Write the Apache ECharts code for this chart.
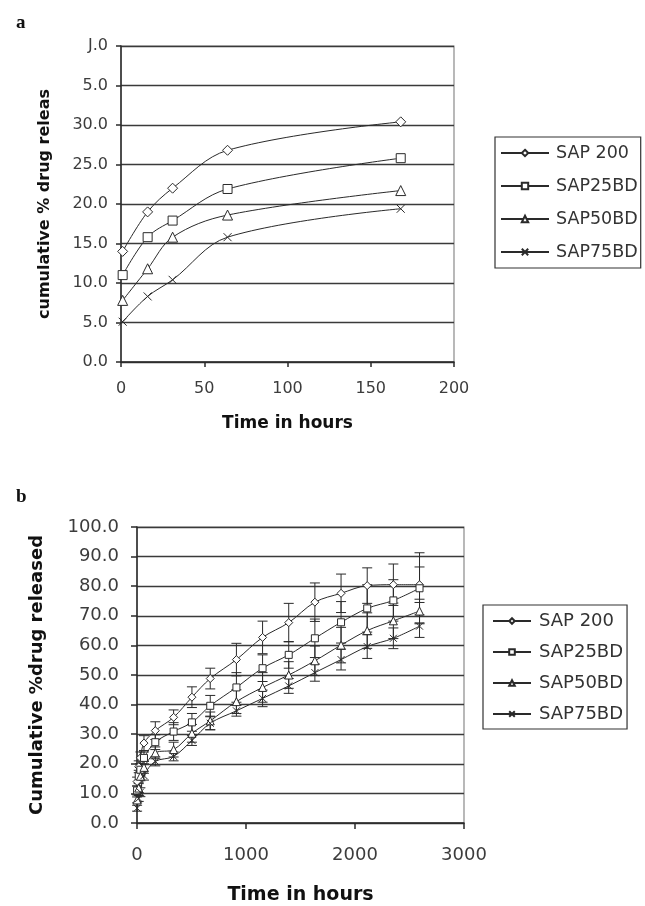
<!DOCTYPE html>
<html>
<head>
<meta charset="utf-8">
<script src="https://cdn.jsdelivr.net/npm/echarts@6/dist/echarts.min.js"></script>
<style>
html,body{margin:0;padding:0;background:#fff;}
#chart{width:645px;height:906px;}
</style>
</head>
<body>
<div id="chart"></div>
<script>
// ---------- Data ----------
var seriesNames = ['SAP 200', 'SAP25BD', 'SAP50BD', 'SAP75BD'];

// Panel a
var timeA = [1, 16, 31, 64, 168];
var a200 = [14.0, 19.0, 22.0, 26.8, 30.4];
var a25  = [11.0, 15.8, 17.9, 21.9, 25.8];
var a50  = [7.8, 11.8, 15.8, 18.6, 21.7];
var a75  = [5.1, 8.3, 10.4, 15.8, 19.4];
var yTicksA = ['0.0', '5.0', '10.0', '15.0', '20.0', '25.0', '30.0', '5.0', 'J.0'];
var xTicksA = ['0', '50', '100', '150', '200'];

// Panel b
var timeB = [1, 16, 31, 64, 168, 336, 504, 672, 912, 1152, 1392, 1632, 1872, 2112, 2352, 2592];
var b200 = [14.0, 19.0, 22.0, 27.0, 31.2, 35.7, 42.5, 48.8, 55.2, 62.7, 67.7, 74.6, 77.6, 80.2, 80.5, 80.5];
var b25  = [11.0, 15.8, 18.0, 22.0, 27.3, 30.9, 34.0, 39.6, 45.8, 52.3, 56.8, 62.4, 67.8, 72.5, 75.2, 79.3];
var b50  = [7.8, 11.8, 15.8, 18.8, 23.7, 24.8, 30.3, 34.5, 41.0, 45.8, 50.0, 54.8, 60.1, 65.0, 68.3, 71.6];
var b75  = [5.0, 8.3, 10.4, 16.0, 20.8, 22.5, 27.9, 33.7, 37.9, 42.1, 46.3, 50.8, 55.2, 59.6, 62.4, 66.5];
var e200 = [1.5, 2, 2, 2.5, 3, 2.5, 3.5, 3.5, 5.5, 5.5, 6.5, 6.5, 6.5, 6, 7, 6];
var e25  = [1.5, 2, 2, 2, 2.5, 3, 3, 3.5, 5, 4.5, 4.5, 6.5, 7, 8, 7, 12];
var e50  = [1, 1.5, 1.5, 2, 2, 2.5, 3, 3, 4, 5, 4.5, 5, 6, 6, 6, 4];
var e75  = [1, 1, 1.5, 1.5, 1.5, 1.5, 1.7, 2.2, 1.8, 2.8, 2.5, 2.9, 3.5, 4, 3.5, 3.8];
var yTicksB = ['0.0', '10.0', '20.0', '30.0', '40.0', '50.0', '60.0', '70.0', '80.0', '90.0', '100.0'];
var xTicksB = ['0', '1000', '2000', '3000'];

// ---------- Styles ----------
var ink = '#2a2a2a';
var xPath = 'path://M0,0L10,10M10,0L0,10';
var symbols = ['diamond', 'rect', 'triangle', xPath];

function pairs(t, v) { return t.map(function (x, i) { return [x, v[i]]; }); }
function triples(t, v, e) { return t.map(function (x, i) { return [x, v[i], e[i]]; }); }

function lineSeries(name, idx, data, axis, size) {
  return {
    name: name, type: 'line', xAxisIndex: axis, yAxisIndex: axis,
    data: data, smooth: 0.35, symbol: symbols[idx], symbolSize: size,
    showAllSymbol: true,
    lineStyle: { color: ink, width: 1 },
    itemStyle: { color: '#fff', borderColor: ink, borderWidth: 1 },
    emphasis: { disabled: true }, z: 3
  };
}

function errSeries(data) {
  return {
    type: 'custom', xAxisIndex: 1, yAxisIndex: 1, data: data, z: 2,
    silent: true,
    renderItem: function (params, api) {
      var x = api.value(0), y = api.value(1), e = api.value(2);
      var top = api.coord([x, y + e]);
      var bot = api.coord([x, y - e]);
      var w = 5;
      var st = { stroke: ink, lineWidth: 1 };
      return {
        type: 'group',
        children: [
          { type: 'line', shape: { x1: top[0], y1: top[1], x2: bot[0], y2: bot[1] }, style: st },
          { type: 'line', shape: { x1: top[0] - w, y1: top[1], x2: top[0] + w, y2: top[1] }, style: st },
          { type: 'line', shape: { x1: bot[0] - w, y1: bot[1], x2: bot[0] + w, y2: bot[1] }, style: st }
        ]
      };
    }
  };
}

var tickFont = 'DejaVu Sans';
var labelColor = '#3c3c3c';

var chart = echarts.init(document.getElementById('chart'), null, { renderer: 'canvas' });
chart.setOption({
  animation: false,
  backgroundColor: '#fff',
  title: [
    { text: 'a', left: 11, top: 9, textStyle: { fontFamily: 'Liberation Serif', fontWeight: 'bold', fontSize: 19, color: '#111' } },
    { text: 'b', left: 11, top: 483, textStyle: { fontFamily: 'Liberation Serif', fontWeight: 'bold', fontSize: 19, color: '#111' } }
  ],
  grid: [
    { left: 121, right: 191, top: 46, bottom: 544, show: true, borderColor: '#8a8a8a', borderWidth: 1.2, backgroundColor: 'transparent' },
    { left: 137, right: 181, top: 527, bottom: 83, show: true, borderColor: '#8a8a8a', borderWidth: 1.2, backgroundColor: 'transparent' }
  ],
  legend: [
    {
      data: seriesNames, orient: 'vertical', left: 495, top: 137,
      padding: [7, 3, 7, 5], itemGap: 15, itemWidth: 48, itemHeight: 8,
      borderColor: '#333', borderWidth: 1.2, selectedMode: false,
      textStyle: { fontFamily: tickFont, fontSize: 17.5, color: '#333', padding: [0, 0, 0, 2] }
    },
    {
      data: seriesNames, orient: 'vertical', left: 483, top: 605,
      padding: [7, 4, 6, 9], itemGap: 13, itemWidth: 38, itemHeight: 7,
      borderColor: '#333', borderWidth: 1.2, selectedMode: false,
      textStyle: { fontFamily: tickFont, fontSize: 18, color: '#333', padding: [0, 0, 0, 3] }
    }
  ],
  xAxis: [
    {
      gridIndex: 0, type: 'value', min: 0, max: 200, interval: 50,
      name: 'Time in hours', nameLocation: 'middle', nameGap: 53,
      nameTextStyle: { fontFamily: tickFont, fontWeight: 'bold', fontSize: 17, color: '#111' },
      axisLine: { lineStyle: { color: ink, width: 1.5 } },
      axisTick: { lineStyle: { color: ink, width: 1.5 }, length: 5 },
      splitLine: { show: false },
      axisLabel: { margin: 19, fontFamily: tickFont, fontSize: 16, color: labelColor,
        formatter: function (v) { return xTicksA[Math.round(v / 50)]; } }
    },
    {
      gridIndex: 1, type: 'value', min: 0, max: 3000, interval: 1000,
      name: 'Time in hours', nameLocation: 'middle', nameGap: 63,
      nameTextStyle: { fontFamily: tickFont, fontWeight: 'bold', fontSize: 19, color: '#111' },
      axisLine: { lineStyle: { color: ink, width: 1.5 } },
      axisTick: { lineStyle: { color: ink, width: 1.5 }, length: 6 },
      splitLine: { show: false },
      axisLabel: { margin: 23, fontFamily: tickFont, fontSize: 18, color: labelColor,
        formatter: function (v) { return xTicksB[Math.round(v / 1000)]; } }
    }
  ],
  yAxis: [
    {
      gridIndex: 0, type: 'value', min: 0, max: 40, interval: 5,
      name: 'cumulative % drug releas', nameLocation: 'middle', nameGap: 68,
      nameTextStyle: { fontFamily: tickFont, fontWeight: 'bold', fontSize: 16, color: '#111' },
      axisLine: { show: true, lineStyle: { color: ink, width: 1.5 } },
      axisTick: { show: true, lineStyle: { color: ink, width: 1.5 }, length: 5 },
      splitLine: { lineStyle: { color: '#3a3a3a', width: 1.3 } },
      axisLabel: { margin: 13, fontFamily: tickFont, fontSize: 16, color: labelColor,
        formatter: function (v) { return yTicksA[Math.round(v / 5)]; } }
    },
    {
      gridIndex: 1, type: 'value', min: 0, max: 100, interval: 10,
      name: 'Cumulative %drug released', nameLocation: 'middle', nameGap: 91,
      nameTextStyle: { fontFamily: tickFont, fontWeight: 'bold', fontSize: 18, color: '#111' },
      axisLine: { show: true, lineStyle: { color: ink, width: 1.5 } },
      axisTick: { show: true, lineStyle: { color: ink, width: 1.5 }, length: 6 },
      splitLine: { lineStyle: { color: '#3a3a3a', width: 1.3 } },
      axisLabel: { margin: 18, fontFamily: tickFont, fontSize: 18, color: labelColor,
        formatter: function (v) { return yTicksB[Math.round(v / 10)]; } }
    }
  ],
  series: [
    lineSeries(seriesNames[0], 0, pairs(timeA, a200), 0, 10),
    lineSeries(seriesNames[1], 1, pairs(timeA, a25), 0, 9),
    lineSeries(seriesNames[2], 2, pairs(timeA, a50), 0, 10),
    lineSeries(seriesNames[3], 3, pairs(timeA, a75), 0, 8),
    errSeries(triples(timeB, b200, e200)),
    errSeries(triples(timeB, b25, e25)),
    errSeries(triples(timeB, b50, e50)),
    errSeries(triples(timeB, b75, e75)),
    lineSeries(seriesNames[0], 0, pairs(timeB, b200), 1, 8),
    lineSeries(seriesNames[1], 1, pairs(timeB, b25), 1, 7),
    lineSeries(seriesNames[2], 2, pairs(timeB, b50), 1, 8),
    lineSeries(seriesNames[3], 3, pairs(timeB, b75), 1, 7)
  ]
});
</script>
</body>
</html>
